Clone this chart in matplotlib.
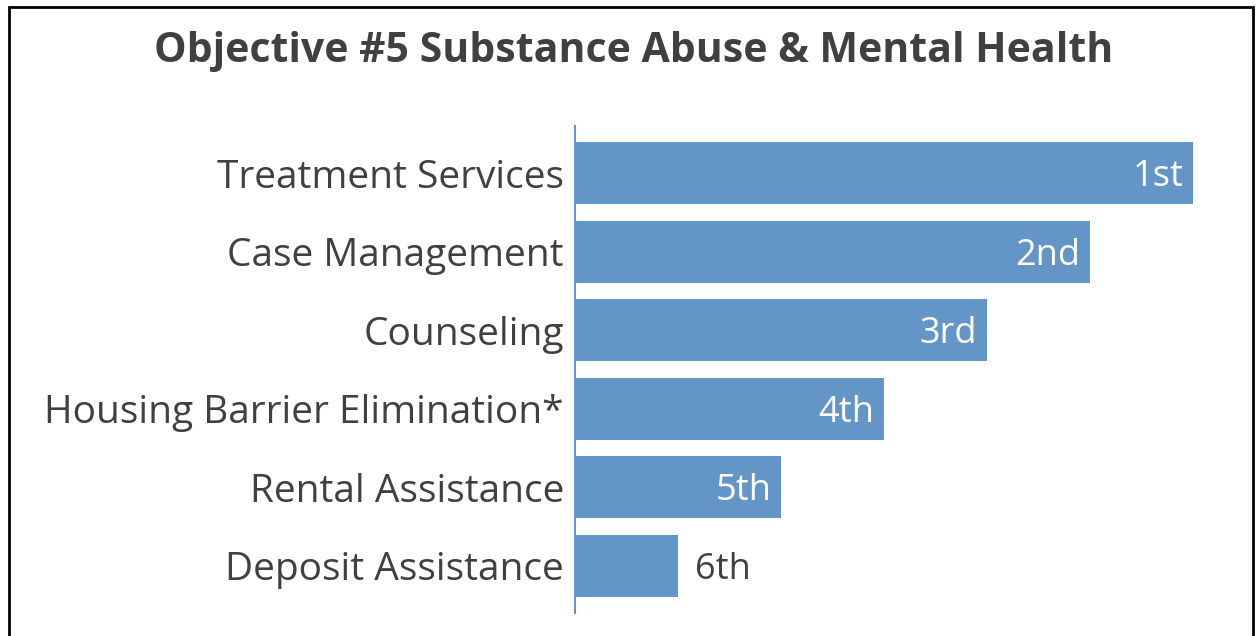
import matplotlib.pyplot as plt
from matplotlib.patches import Rectangle

categories = ['Treatment Services', 'Case Management', 'Counseling',
              'Housing Barrier Elimination*', 'Rental Assistance', 'Deposit Assistance']
scores = [6, 5, 4, 3, 2, 1]
rank_labels = ['1st', '2nd', '3rd', '4th', '5th', '6th']

bar_color = '#6495C7'
text_color = '#404040'
plt.rcParams['font.family'] = ['Open Sans', 'DejaVu Sans']

W, H = 1259, 636
fig = plt.figure(figsize=(W / 100, H / 100), dpi=100)

# outer frame (bottom edge runs off the picture)
fig.patches.append(Rectangle((9 / W, -0.05), 1244 / W, 1.05 - 7 / H,
                             transform=fig.transFigure, fill=False,
                             edgecolor='black', linewidth=2))

fig.text(634 / W, 1 - 52 / H, 'Objective #5 Substance Abuse & Mental Health',
         ha='center', va='center', fontsize=29.5, fontweight='bold', color=text_color)

ax = fig.add_axes([575 / W, 1 - 613 / H, 650 / W, 487 / H])
y = list(range(len(categories)))
bars = ax.barh(y, scores, height=0.79, color=bar_color)
ax.set_xlim(0, 650 / 103)
ax.set_ylim(5.6, -0.6)
ax.set_yticks(y)
ax.set_yticklabels(categories, fontsize=28, color=text_color)
ax.tick_params(axis='y', length=0, pad=8)
ax.set_xticks([])
for s in ['top', 'right', 'bottom']:
    ax.spines[s].set_visible(False)
ax.spines['left'].set_color(bar_color)
ax.spines['left'].set_linewidth(1.5)

for yi, v, lab in zip(y, scores, rank_labels):
    if v > 1:
        ax.annotate(lab, (v, yi), xytext=(-7, -3), textcoords='offset points',
                    ha='right', va='center', fontsize=26, color='white')
    else:
        ax.annotate(lab, (v, yi), xytext=(12, -3), textcoords='offset points',
                    ha='left', va='center', fontsize=26, color=text_color)

fig.savefig('out.png', dpi=100)
